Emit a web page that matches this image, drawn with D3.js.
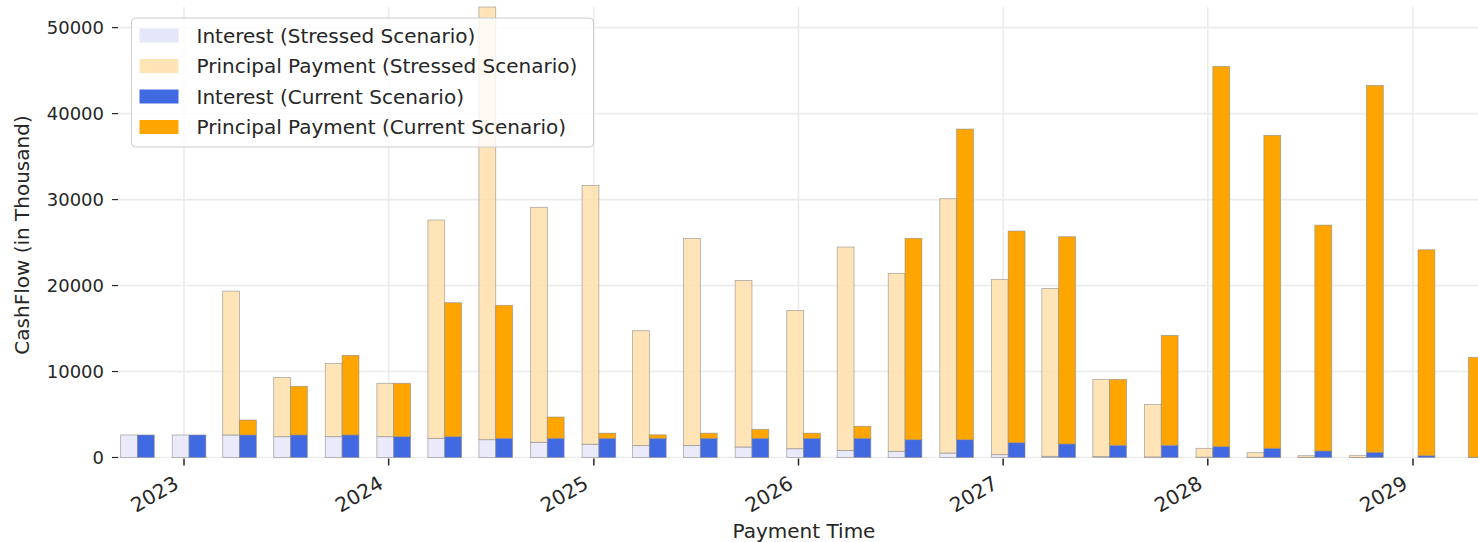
<!DOCTYPE html>
<html>
<head>
<meta charset="utf-8">
<script src="https://cdn.jsdelivr.net/npm/d3@7"></script>
<style>
    body { margin: 0; background: #fff; }
    svg { display: block; font-family: "DejaVu Sans", sans-serif; }
</style>
</head>
<body>
<div id="chart"></div>
<script>
    // payment dates, one pair of bars per quarter
    var paymentDates = [
        "2022-10-10", "2023-01-10", "2023-04-10", "2023-07-10", "2023-10-10",
        "2024-01-10", "2024-04-10", "2024-07-10", "2024-10-10",
        "2025-01-10", "2025-04-10", "2025-07-10", "2025-10-10",
        "2026-01-10", "2026-04-10", "2026-07-10", "2026-10-10",
        "2027-01-10", "2027-04-10", "2027-07-10", "2027-10-10",
        "2028-01-10", "2028-04-10", "2028-07-10", "2028-10-10",
        "2029-01-10", "2029-04-10"
    ];

    var stressedInterest = [2620, 2620, 2620, 2420, 2420, 2420, 2230, 2070, 1770, 1540, 1380, 1380, 1220,
        1020, 830, 720, 520, 330, 140, 100, 60, 40, 30, 20, 10, 0, 0];
    var stressedPrincipal = [0, 0, 16740, 6900, 8530, 6210, 25390, 50330, 27330, 30110, 13370, 24110, 19380,
        16090, 23650, 20700, 29580, 20390, 19530, 8990, 6120, 1030, 530, 190, 240, 0, 0];
    var currentInterest = [2620, 2620, 2620, 2620, 2620, 2420, 2420, 2230, 2230, 2230, 2230, 2230, 2230,
        2230, 2230, 2070, 2070, 1720, 1570, 1420, 1420, 1260, 1070, 760, 600, 210, 30];
    var currentPrincipal = [0, 0, 1740, 5660, 9260, 6210, 15580, 15470, 2480, 600, 410, 600, 1050,
        600, 1400, 23420, 36130, 24620, 24110, 7670, 12780, 44230, 36400, 26270, 42680, 23950, 11620];

    var yTicks = [0, 10000, 20000, 30000, 40000, 50000];
    var yearTicks = ["2023", "2024", "2025", "2026", "2027", "2028", "2029"];

    var legendItems = [
        {label: "Interest (Stressed Scenario)", color: "#e6e6fa"},
        {label: "Principal Payment (Stressed Scenario)", color: "#ffe4b5"},
        {label: "Interest (Current Scenario)", color: "#4169e1"},
        {label: "Principal Payment (Current Scenario)", color: "#ffa500"}
    ];

    var width = 1478, height = 542;
    var plotLeft = 118, plotTop = 7, plotBottom = 457.5;
    var tickFont = 18, yearFont = 20, labelFont = 20, legendFont = 20;
    var barDays = 30;

    var parseDay = d3.utcParse("%Y-%m-%d");
    var dates = paymentDates.map(parseDay);

    var x = d3.scaleUtc()
        .domain([Date.UTC(2023, 0, 1), Date.UTC(2029, 0, 1)])
        .range([184, 1413]);

    var y = d3.scaleLinear()
        .domain([0, 52400])
        .range([plotBottom, plotTop]);

    var svg = d3.select("#chart").append("svg")
        .attr("width", width)
        .attr("height", height);

    svg.append("defs").append("clipPath").attr("id", "plotclip")
        .append("rect")
        .attr("x", plotLeft).attr("y", plotTop - 1)
        .attr("width", width - plotLeft).attr("height", plotBottom - plotTop + 2);

    // grid
    var grid = svg.append("g").attr("clip-path", "url(#plotclip)");
    grid.selectAll(".hgrid").data(yTicks).enter().append("line")
        .attr("x1", plotLeft).attr("x2", width)
        .attr("y1", function(d){ return y(d); })
        .attr("y2", function(d){ return y(d); })
        .attr("stroke", "#ebebeb").attr("stroke-width", 1.6);
    grid.selectAll(".vgrid").data(yearTicks).enter().append("line")
        .attr("x1", function(d){ return x(Date.UTC(+d, 0, 1)); })
        .attr("x2", function(d){ return x(Date.UTC(+d, 0, 1)); })
        .attr("y1", plotTop).attr("y2", plotBottom)
        .attr("stroke", "#ebebeb").attr("stroke-width", 1.6);

    // stacked bars for one scenario; side = -1 puts the bar left of the date
    function drawScenario(interest, principal, colors, opacity, side) {
        var rows = dates.map(function(d, i){
            return {date: d.getTime(), interest: interest[i], principal: principal[i]};
        });
        var stacked = d3.stack().keys(["interest", "principal"])(rows);
        var g = svg.append("g").attr("clip-path", "url(#plotclip)");
        stacked.forEach(function(layer, li){
            g.selectAll(null).data(layer.filter(function(d){ return d[1] - d[0] > 0; }))
                .enter().append("rect")
                .attr("x", function(d){
                    return side < 0 ? x(d.data.date - barDays * 86400000) : x(d.data.date);
                })
                .attr("width", function(d){
                    return x(d.data.date + barDays * 86400000) - x(d.data.date);
                })
                .attr("y", function(d){ return y(d[1]); })
                .attr("height", function(d){ return y(d[0]) - y(d[1]); })
                .attr("fill", colors[li])
                .attr("fill-opacity", opacity)
                .attr("stroke", "#8a8a8a")
                .attr("stroke-opacity", 0.7)
                .attr("stroke-width", 0.8);
        });
    }

    drawScenario(stressedInterest, stressedPrincipal, ["#e6e6fa", "#ffdfaa"], 0.85, -1);
    drawScenario(currentInterest, currentPrincipal, ["#4169e1", "#ffa500"], 1, 1);

    // y axis ticks and labels
    var yAxis = svg.append("g");
    yAxis.selectAll("line").data(yTicks).enter().append("line")
        .attr("x1", plotLeft - 6).attr("x2", plotLeft)
        .attr("y1", function(d){ return y(d); })
        .attr("y2", function(d){ return y(d); })
        .attr("stroke", "#262626").attr("stroke-width", 1.2);
    yAxis.selectAll("text").data(yTicks).enter().append("text")
        .attr("x", plotLeft - 14)
        .attr("y", function(d){ return y(d); })
        .attr("dy", "0.35em")
        .attr("text-anchor", "end")
        .attr("font-size", tickFont)
        .attr("fill", "#262626")
        .text(function(d){ return d; });

    // x axis ticks and rotated year labels
    var xAxis = svg.append("g");
    yearTicks.forEach(function(t){
        var px = x(Date.UTC(+t, 0, 1));
        xAxis.append("line")
            .attr("x1", px).attr("x2", px)
            .attr("y1", plotBottom + 1).attr("y2", plotBottom + 8)
            .attr("stroke", "#262626").attr("stroke-width", 1.5);
        xAxis.append("text")
            .attr("transform", "translate(" + (px - 4) + "," + (plotBottom + 30) + ") rotate(-30)")
            .attr("text-anchor", "end")
            .attr("font-size", yearFont)
            .attr("fill", "#262626")
            .text(t);
    });

    svg.append("text")
        .attr("x", 804).attr("y", 538)
        .attr("text-anchor", "middle")
        .attr("font-size", labelFont)
        .attr("fill", "#262626")
        .text("Payment Time");

    svg.append("text")
        .attr("transform", "translate(29,235) rotate(-90)")
        .attr("text-anchor", "middle")
        .attr("font-size", labelFont)
        .attr("fill", "#262626")
        .text("CashFlow (in Thousand)");

    // legend
    var legend = svg.append("g").attr("transform", "translate(131.5,18)");
    legend.append("rect")
        .attr("width", 462).attr("height", 129)
        .attr("rx", 4)
        .attr("fill", "#fff").attr("fill-opacity", 0.8)
        .attr("stroke", "#cccccc").attr("stroke-width", 1);
    var rowsG = legend.selectAll(".item").data(legendItems).enter().append("g")
        .attr("transform", function(d, i){ return "translate(0," + (17.5 + i * 30.5) + ")"; });
    rowsG.append("rect")
        .attr("x", 8).attr("y", -7)
        .attr("width", 39).attr("height", 14)
        .attr("fill", function(d){ return d.color; });
    rowsG.append("text")
        .attr("x", 65).attr("dy", "0.35em")
        .attr("font-size", legendFont)
        .attr("fill", "#262626")
        .text(function(d){ return d.label; });
</script>
</body>
</html>
